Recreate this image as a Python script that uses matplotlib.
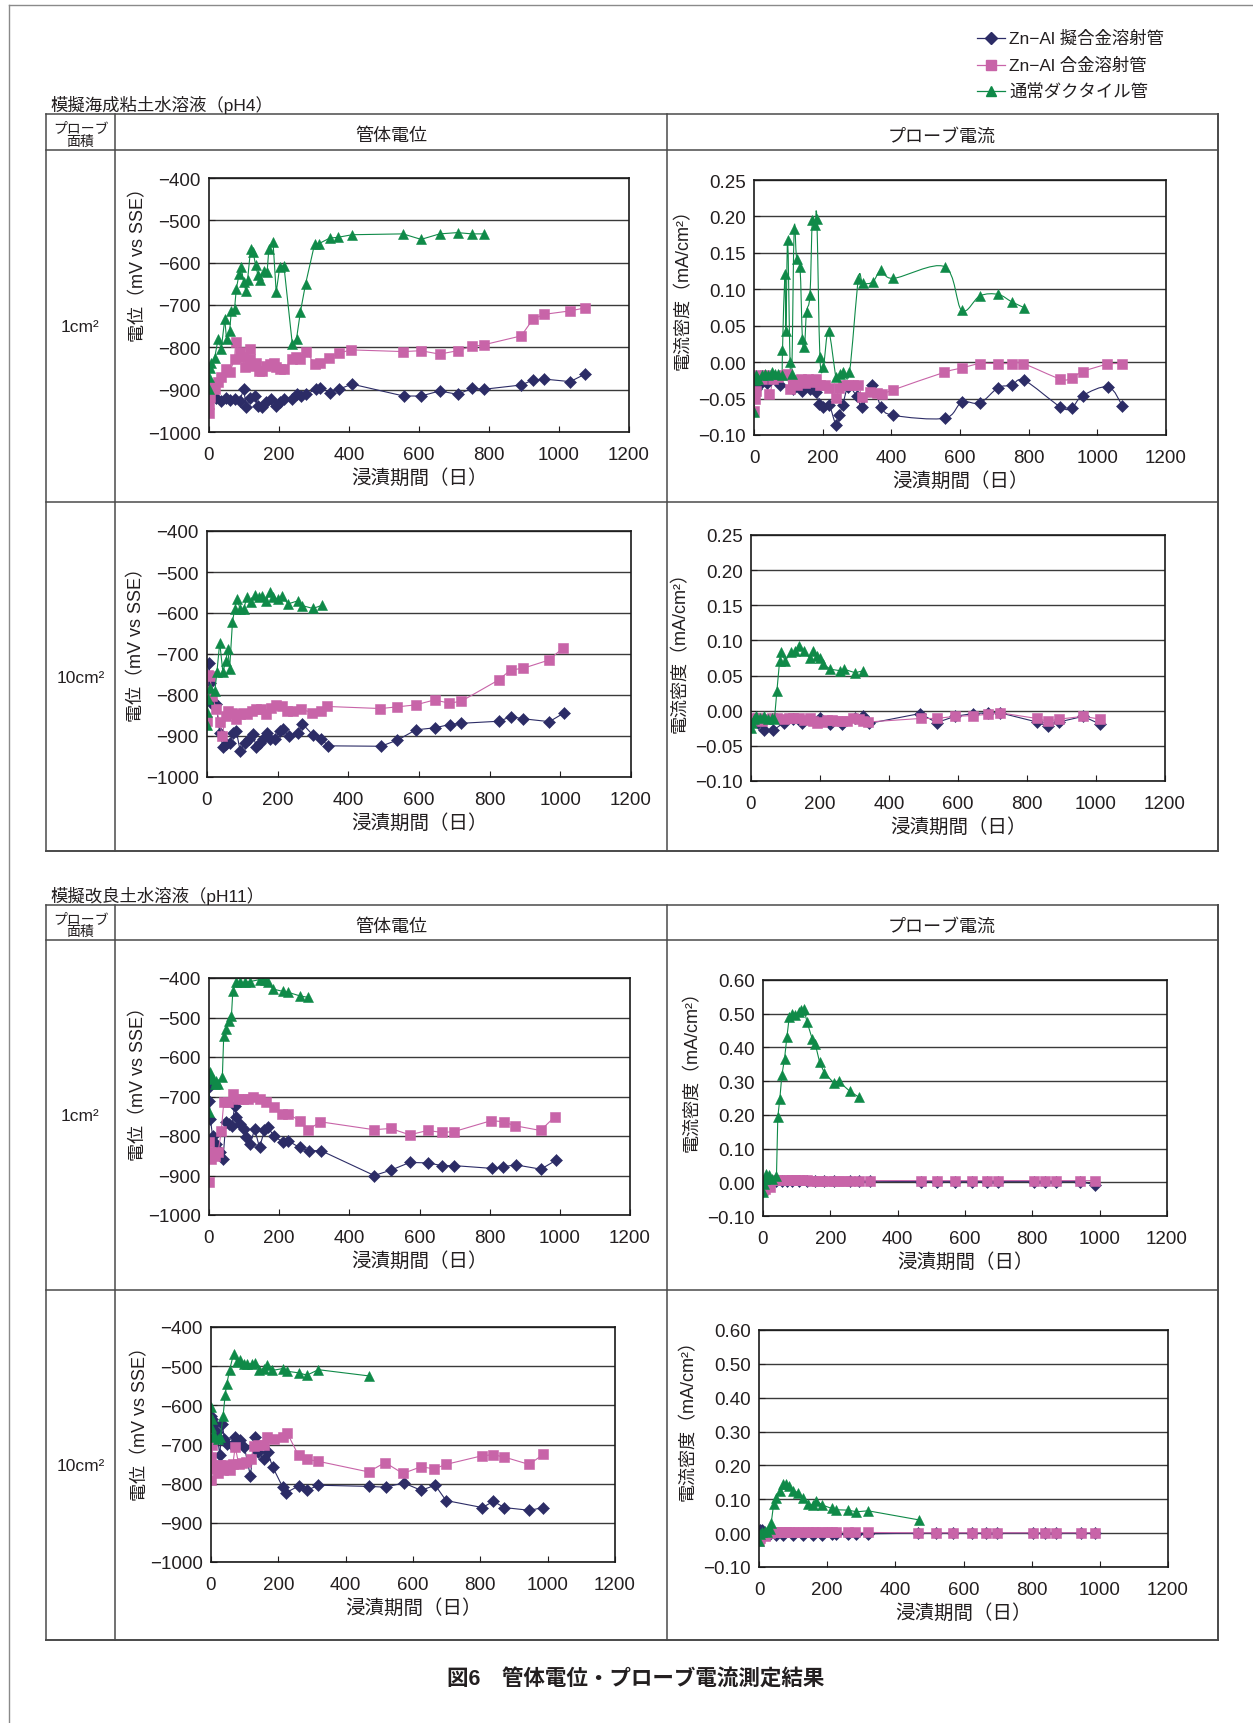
import numpy as np
import matplotlib
matplotlib.use('Agg')
import matplotlib.pyplot as plt
from matplotlib.lines import Line2D
from matplotlib.path import Path
from matplotlib.patches import PathPatch
from matplotlib.transforms import IdentityTransform
from matplotlib.ticker import FuncFormatter

plt.rcParams['font.family'] = ['Liberation Sans', 'Noto Sans CJK JP']

# ---- data (day, value) ----
# pH4, 1cm2, 管体電位 (mV)
a_navy_day = [0, 7, 21, 35, 48, 59, 73, 88, 99, 107, 116, 130, 140, 150, 164, 178, 192, 202, 213, 238,
              250, 264, 278, 305, 316, 345, 370, 409, 556, 606, 659, 710, 752, 786, 892, 926, 958, 1032, 1075]
a_navy_val = [-915, -913, -919, -926, -919, -924, -922, -926, -899, -942, -919, -915, -938, -942, -930, -922, -938, -930, -922, -922,
              -911, -916, -911, -899, -895, -907, -899, -887, -915, -915, -903, -911, -897, -899, -889, -877, -875, -881, -863]
a_pink_day = [0, 1, 2, 4, 10, 16, 26, 35, 48, 59, 73, 76, 88, 97, 102, 116, 118, 126, 135, 143,
              152, 164, 173, 185, 192, 202, 213, 238, 248, 261, 278, 302, 316, 343, 370, 405, 554, 605, 659, 710,
              751, 785, 892, 926, 958, 1031, 1074]
a_pink_val = [-954, -934, -918, -899, -891, -899, -883, -871, -852, -859, -828, -788, -812, -824, -847, -804, -828, -844, -836, -855,
              -855, -844, -840, -836, -847, -852, -852, -828, -824, -828, -810, -840, -836, -826, -814, -806, -810, -808, -816, -808,
              -798, -794, -773, -733, -722, -714, -707]
a_green_day = [0, 1, 2, 7, 16, 26, 35, 45, 50, 59, 64, 73, 78, 86, 92, 99, 105, 110, 119, 126,
               133, 140, 147, 156, 166, 171, 183, 192, 202, 214, 238, 250, 261, 276, 302, 314, 345, 369, 409, 554,
               606, 659, 710, 751, 786]
a_green_val = [-899, -871, -848, -837, -826, -780, -804, -733, -780, -761, -713, -709, -662, -627, -611, -646, -666, -642, -567, -575,
               -605, -630, -642, -619, -623, -567, -552, -670, -611, -607, -792, -780, -717, -650, -555, -555, -542, -540, -534, -532,
               -545, -532, -529, -532, -532]

# pH4, 1cm2, プローブ電流 (mA/cm2)
b_navy_day = [0, 6, 16, 37, 76, 115, 141, 163, 181, 190, 202, 219, 239, 249, 258, 275, 299, 316, 345, 370,
              406, 555, 605, 658, 711, 750, 787, 891, 925, 957, 1032, 1073]
b_navy_val = [-0.041, -0.037, -0.032, -0.028, -0.032, -0.037, -0.039, -0.037, -0.041, -0.057, -0.062, -0.059, -0.086, -0.072, -0.059,
              -0.034, -0.047, -0.061, -0.031, -0.061, -0.073, -0.077, -0.055, -0.056, -0.035, -0.032, -0.025, -0.061, -0.063, -0.046,
              -0.034, -0.060]
b_pink_day = [0, 3, 6, 12, 22, 32, 45, 56, 71, 85, 95, 105, 113, 124, 137, 149, 158, 168, 181, 192,
              207, 219, 238, 248, 260, 275, 289, 304, 316, 338, 357, 372, 406, 554, 605, 658, 710, 750, 784, 891,
              925, 957, 1029, 1073]
b_pink_val = [-0.067, -0.050, -0.039, -0.018, -0.023, -0.018, -0.044, -0.023, -0.021, -0.018, -0.016, -0.037, -0.025, -0.032, -0.023,
              -0.028, -0.023, -0.027, -0.023, -0.032, -0.032, -0.036, -0.049, -0.036, -0.032, -0.032, -0.032, -0.032, -0.048, -0.041,
              -0.043, -0.044, -0.038, -0.014, -0.008, -0.002, -0.002, -0.002, -0.002, -0.023, -0.022, -0.013, -0.003, -0.002]
b_green_day = [0, 3, 6, 13, 22, 32, 42, 51, 61, 71, 81, 83, 90, 93, 98, 105, 110, 117, 124, 134,
               141, 147, 153, 163, 170, 178, 183, 192, 202, 217, 239, 250, 260, 278, 304, 317, 346, 370, 406, 555,
               605, 658, 711, 750, 786]
b_green_val = [-0.069, -0.025, -0.018, -0.023, -0.018, -0.016, -0.018, -0.014, -0.016, -0.016, -0.018, 0.016, 0.121, 0.043, 0.167,
               0.000, -0.016, 0.183, 0.142, 0.130, 0.032, 0.021, 0.069, 0.092, 0.195, 0.188, 0.197, 0.007, -0.007, 0.043,
               -0.021, -0.016, -0.014, -0.014, 0.114, 0.108, 0.110, 0.126, 0.115, 0.131, 0.071, 0.091, 0.093, 0.083, 0.075]

# pH4, 10cm2, 管体電位
c_navy_day = [0, 6, 8, 12, 26, 36, 45, 55, 64, 74, 83, 94, 107, 119, 130, 140, 149, 159, 170, 179,
              192, 206, 215, 232, 258, 270, 300, 324, 343, 492, 539, 591, 645, 687, 720, 826, 860, 895, 969, 1010]
c_navy_val = [-753, -721, -770, -819, -823, -892, -926, -920, -916, -892, -888, -937, -916, -908, -896, -928, -916, -908, -893, -908,
              -907, -888, -884, -900, -893, -870, -898, -908, -924, -925, -910, -885, -880, -872, -869, -864, -853, -858, -865, -844]
c_pink_day = [0, 1, 3, 8, 15, 26, 36, 43, 53, 59, 72, 83, 93, 102, 113, 126, 140, 154, 168, 182,
              196, 211, 225, 244, 267, 298, 324, 341, 491, 538, 591, 644, 686, 720, 826, 859, 894, 967, 1008]
c_pink_val = [-863, -790, -751, -753, -802, -835, -867, -900, -851, -839, -843, -859, -847, -843, -847, -839, -835, -835, -847, -831,
              -825, -827, -839, -839, -835, -843, -840, -828, -833, -829, -824, -812, -820, -815, -763, -739, -735, -715, -685]
c_green_day = [0, 1, 3, 9, 22, 28, 36, 45, 53, 59, 64, 72, 78, 85, 94, 104, 113, 124, 135, 147,
               157, 168, 178, 187, 201, 213, 229, 258, 270, 300, 326]
c_green_val = [-874, -841, -810, -782, -790, -745, -672, -745, -717, -688, -737, -623, -591, -566, -591, -591, -560, -574, -556, -562,
               -558, -570, -548, -562, -566, -558, -578, -570, -582, -589, -581]

# pH4, 10cm2, プローブ電流
d_navy_day = [0, 19, 39, 64, 95, 123, 148, 201, 230, 263, 302, 324, 343, 490, 538, 591, 643, 688, 722, 828, 860, 893, 963, 1011]
d_navy_val = [-0.019, -0.017, -0.028, -0.028, -0.017, -0.012, -0.017, -0.010, -0.019, -0.019, -0.010, -0.008, -0.018, -0.004,
              -0.017, -0.008, -0.004, -0.003, -0.003, -0.016, -0.022, -0.016, -0.008, -0.019]
d_pink_day = [0, 10, 19, 32, 46, 61, 75, 95, 109, 123, 138, 153, 170, 181, 191, 205, 220, 234, 249, 263,
              278, 297, 312, 326, 340, 492, 538, 591, 643, 688, 722, 828, 860, 893, 963, 1011]
d_pink_val = [-0.015, -0.010, -0.010, -0.015, -0.012, -0.011, -0.010, -0.012, -0.010, -0.011, -0.010, -0.013, -0.011, -0.015,
              -0.017, -0.016, -0.013, -0.013, -0.015, -0.015, -0.015, -0.011, -0.012, -0.015, -0.016, -0.011, -0.011, -0.008,
              -0.007, -0.005, -0.003, -0.011, -0.015, -0.012, -0.008, -0.012]
d_green_day = [0, 3, 8, 15, 25, 37, 48, 61, 68, 75, 83, 88, 99, 116, 128, 138, 153, 170, 180, 191,
               201, 210, 230, 258, 270, 302, 326]
d_green_val = [-0.024, -0.017, -0.012, -0.007, -0.010, -0.007, -0.012, -0.010, -0.012, 0.028, 0.071, 0.083, 0.071, 0.083, 0.085,
               0.092, 0.085, 0.075, 0.085, 0.078, 0.075, 0.066, 0.059, 0.057, 0.059, 0.054, 0.057]

# pH11, 1cm2, 管体電位
e_navy_day = [0, 1, 4, 10, 21, 30, 40, 48, 57, 66, 73, 78, 87, 99, 106, 118, 130, 144, 158, 168,
              184, 211, 225, 258, 284, 319, 471, 520, 572, 623, 664, 699, 807, 838, 874, 946, 988]
e_navy_val = [-677, -711, -757, -799, -820, -841, -858, -765, -770, -774, -723, -753, -770, -782, -803, -820, -782, -829, -786, -778,
              -799, -816, -812, -829, -837, -837, -900, -886, -867, -868, -875, -875, -882, -878, -873, -884, -862]
e_pink_day = [0, 1, 2, 7, 16, 26, 35, 42, 54, 68, 83, 97, 111, 126, 144, 163, 184, 209, 225, 258,
              282, 317, 470, 518, 572, 623, 664, 698, 805, 840, 872, 945, 986]
e_pink_val = [-916, -816, -841, -858, -850, -841, -788, -715, -715, -694, -706, -706, -706, -702, -706, -715, -727, -744, -744, -761,
              -785, -764, -784, -781, -797, -786, -791, -789, -761, -764, -774, -786, -751]
e_green_day = [0, 1, 4, 10, 16, 21, 26, 38, 42, 49, 57, 64, 68, 78, 87, 102, 118, 144, 160, 168, 183, 211, 225, 258, 282]
e_green_val = [-740, -651, -639, -656, -668, -660, -668, -651, -546, -529, -508, -495, -432, -411, -411, -411, -409, -404, -404, -411,
               -428, -434, -436, -445, -449]

# pH11, 1cm2, プローブ電流
f_navy_day = [0, 3, 8, 17, 27, 40, 56, 71, 86, 106, 131, 155, 182, 210, 258, 284, 319, 469, 517, 569,
              621, 665, 698, 804, 839, 871, 943, 987]
f_navy_val = [-0.025, -0.015, -0.010, -0.005, 0.000, 0.003, 0.004, 0.004, 0.004, 0.004, 0.004, 0.004, 0.004, 0.004,
              0.003, 0.003, 0.003, 0.002, 0.002, 0.002, 0.002, 0.002, 0.002, 0.002, 0.002, 0.002, 0.002, -0.008]
f_pink_day = [0, 2, 7, 22, 32, 47, 61, 76, 86, 96, 106, 116, 131, 146, 160, 175, 190, 210, 225, 240,
              259, 284, 319, 469, 517, 569, 621, 665, 698, 804, 839, 871, 943, 987]
f_pink_val = [-0.024, -0.009, -0.019, -0.014, 0.006, 0.006, 0.006, 0.006, 0.006, 0.006, 0.006, 0.006, 0.006, 0.005, 0.004,
              0.005, 0.005, 0.005, 0.005, 0.005, 0.005, 0.005, 0.005, 0.005, 0.005, 0.005, 0.005, 0.005, 0.005, 0.005,
              0.005, 0.005, 0.005, 0.005]
f_green_day = [0, 2, 5, 10, 17, 27, 40, 44, 50, 56, 64, 71, 78, 86, 96, 106, 114, 121, 131, 146,
               155, 168, 182, 210, 225, 258, 284]
f_green_val = [-0.029, -0.004, 0.011, 0.026, 0.021, 0.011, 0.019, 0.194, 0.248, 0.317, 0.367, 0.431, 0.490, 0.500, 0.495,
               0.505, 0.510, 0.515, 0.475, 0.426, 0.411, 0.357, 0.325, 0.295, 0.299, 0.270, 0.253]

# pH11, 10cm2, 管体電位
g_navy_day = [0, 2, 8, 18, 26, 33, 40, 47, 62, 72, 85, 99, 117, 130, 141, 156, 168, 183, 213, 223,
              260, 285, 319, 470, 519, 572, 624, 666, 698, 806, 839, 871, 946, 987]
g_navy_val = [-626, -634, -647, -668, -728, -647, -685, -698, -702, -681, -689, -706, -780, -681, -719, -738, -719, -757, -809, -823,
              -806, -817, -804, -807, -809, -798, -817, -804, -843, -861, -845, -861, -868, -861]
g_pink_day = [0, 1, 3, 6, 13, 20, 28, 36, 45, 55, 65, 72, 82, 92, 105, 119, 127, 141, 156, 166,
              186, 214, 226, 260, 285, 319, 468, 517, 570, 623, 663, 697, 804, 837, 871, 945, 987]
g_pink_val = [-791, -732, -702, -762, -753, -774, -753, -766, -753, -766, -749, -706, -749, -746, -745, -738, -704, -702, -700, -681,
              -685, -681, -670, -728, -738, -743, -770, -746, -774, -757, -762, -751, -729, -726, -732, -751, -725]
g_green_day = [0, 1, 3, 6, 13, 20, 28, 36, 42, 47, 55, 67, 77, 87, 97, 107, 122, 132, 144, 156,
               166, 181, 214, 226, 260, 285, 319, 470]
g_green_val = [-604, -655, -634, -677, -681, -685, -681, -626, -574, -545, -511, -468, -489, -485, -494, -494, -494, -491, -509, -506,
               -498, -511, -506, -513, -517, -523, -509, -525]

# pH11, 10cm2, プローブ電流
h_navy_day = [0, 3, 8, 17, 31, 51, 71, 100, 129, 157, 186, 213, 227, 262, 286, 320, 467, 518, 570, 624,
              665, 699, 805, 839, 871, 945, 987]
h_navy_val = [-0.015, 0.008, 0.010, 0.000, -0.003, -0.005, -0.005, -0.005, -0.005, -0.005, -0.005, -0.004, -0.004, -0.003,
              -0.003, -0.002, 0.000, 0.000, 0.000, 0.000, 0.000, 0.000, 0.000, 0.000, 0.000, 0.000, 0.000]
h_pink_day = [0, 3, 17, 31, 41, 51, 61, 71, 80, 88, 100, 115, 129, 144, 157, 168, 186, 200, 213, 227,
              260, 281, 320, 467, 518, 570, 624, 665, 699, 805, 839, 871, 945, 987]
h_pink_val = [-0.023, -0.013, -0.008, 0.000, 0.003, 0.004, 0.004, 0.004, 0.004, 0.004, 0.004, 0.004, 0.004, 0.004, 0.004,
              0.004, 0.004, 0.004, 0.004, 0.004, 0.002, 0.002, 0.002, 0.001, 0.001, 0.001, 0.001, 0.001, 0.001, 0.001,
              0.001, 0.001, 0.001, 0.001]
h_green_day = [0, 4, 10, 17, 24, 31, 36, 43, 51, 61, 71, 80, 88, 100, 115, 129, 144, 157, 168, 186, 213, 227, 262, 286, 320, 470]
h_green_val = [-0.023, -0.003, 0.002, 0.007, 0.004, 0.012, 0.031, 0.086, 0.105, 0.125, 0.145, 0.145, 0.140, 0.125, 0.120,
               0.105, 0.086, 0.083, 0.096, 0.083, 0.073, 0.069, 0.068, 0.063, 0.066, 0.039]

series_names = ['Zn\u2212Al 擬合金溶射管', 'Zn\u2212Al 合金溶射管', '通常ダクタイル管']
POT_LABEL = '電位（mV vs SSE）'
CUR_LABEL = '電流密度（mA/cm²）'

NAVY = '#2c2c66'
PINK = '#c864a8'
GREEN = '#0f8a48'
TXT = '#231f20'
styles = [(NAVY, 'D', 6), (PINK, 's', 7.2), (GREEN, '^', 7.8)]

W, H = 1253, 1724
fig = plt.figure(figsize=(W / 100, H / 100), dpi=100)


def fx(x):
    return x / W


def fy(y):
    return 1 - y / H


def line(x0, y0, x1, y1, c='#4a4a4a', lw=1.1):
    fig.add_artist(Line2D([fx(x0), fx(x1)], [fy(y0), fy(y1)], color=c, lw=lw))


def text(x, y, s, **kw):
    kw.setdefault('color', TXT)
    fig.text(fx(x), fy(y), s, **kw)


def minus(s):
    s = s.replace('-', '\u2212')
    return '0.00' if s == '\u22120.00' else s


def smooth_line(ax, x, y, color):
    # Excel style smoothed line, built in pixel space
    pts = ax.transData.transform(np.column_stack([x, y]))
    n = len(pts)
    verts = [pts[0]]
    codes = [Path.MOVETO]
    for i in range(n - 1):
        p0 = pts[i - 1] if i > 0 else pts[i]
        p3 = pts[i + 2] if i + 2 < n else pts[i + 1]
        verts += [pts[i] + (pts[i + 1] - p0) / 6, pts[i + 1] - (p3 - pts[i]) / 6, pts[i + 1]]
        codes += [Path.CURVE4] * 3
    patch = PathPatch(Path(verts, codes), fill=False, edgecolor=color, lw=0.8,
                      transform=IdentityTransform())
    ax.add_artist(patch)


def panel(box, ylim, step, ylabel, label_y, data, fmt, smooth=False):
    l, t, r, b = box
    ax = fig.add_axes([fx(l), fy(b), (r - l) / W, (b - t) / H])
    ax.set_xlim(0, 1200)
    ax.set_ylim(*ylim)
    ax.set_xticks(range(0, 1201, 200))
    nt = int(round((ylim[1] - ylim[0]) / step)) + 1
    ax.set_yticks(np.linspace(ylim[0], ylim[1], nt))
    ax.yaxis.set_major_formatter(FuncFormatter(lambda v, p: minus(fmt % v)))
    ax.yaxis.grid(True, color='#3a3a3a', lw=1.0)
    ax.set_axisbelow(True)
    for sp in ax.spines.values():
        sp.set_color('#1a1a1a')
        sp.set_linewidth(1.2)
    ax.tick_params(direction='in', length=4, width=0.8, labelsize=13.5, colors=TXT)
    ax.tick_params(axis='x', pad=10)
    ax.tick_params(axis='y', pad=6)
    for (xd, yd), (c, m, ms) in zip(data, styles):
        if smooth:
            smooth_line(ax, xd, yd, c)
            ax.plot(xd, yd, ls='none', marker=m, ms=ms, color=c, mec=c, mew=0.4)
        else:
            ax.plot(xd, yd, color=c, lw=0.8, marker=m, ms=ms, mec=c, mew=0.4)
    ax.set_xlabel('浸漬期間（日）', fontsize=14, color=TXT)
    ax.xaxis.set_label_coords(0.5, -36 / (b - t))
    ax.set_ylabel(ylabel, fontsize=13, color=TXT)
    ax.yaxis.set_label_coords(-62 / (r - l), (b - label_y) / (b - t))
    return ax


panel((209, 179, 629, 433), (-1000, -400), 100, POT_LABEL, 260,
      [(a_navy_day, a_navy_val), (a_pink_day, a_pink_val), (a_green_day, a_green_val)], '%.0f')
panel((754, 181, 1166, 436), (-0.10, 0.25), 0.05, CUR_LABEL, 285,
      [(b_navy_day, b_navy_val), (b_pink_day, b_pink_val), (b_green_day, b_green_val)], '%.2f', smooth=True)
panel((207, 532, 631, 778), (-1000, -400), 100, POT_LABEL, 641,
      [(c_navy_day, c_navy_val), (c_pink_day, c_pink_val), (c_green_day, c_green_val)], '%.0f')
panel((751, 536, 1165, 782), (-0.10, 0.25), 0.05, CUR_LABEL, 648,
      [(d_navy_day, d_navy_val), (d_pink_day, d_pink_val), (d_green_day, d_green_val)], '%.2f')
panel((209, 979, 630, 1216), (-1000, -400), 100, POT_LABEL, 1080,
      [(e_navy_day, e_navy_val), (e_pink_day, e_pink_val), (e_green_day, e_green_val)], '%.0f')
panel((763, 981, 1167, 1217), (-0.10, 0.60), 0.10, CUR_LABEL, 1067,
      [(f_navy_day, f_navy_val), (f_pink_day, f_pink_val), (f_green_day, f_green_val)], '%.2f')
panel((211, 1328, 615, 1563), (-1000, -400), 100, POT_LABEL, 1420,
      [(g_navy_day, g_navy_val), (g_pink_day, g_pink_val), (g_green_day, g_green_val)], '%.0f')
panel((759, 1331, 1168, 1568), (-0.10, 0.60), 0.10, CUR_LABEL, 1416,
      [(h_navy_day, h_navy_val), (h_pink_day, h_pink_val), (h_green_day, h_green_val)], '%.2f')

# page frame
line(9, 6, W, 6, c='#8a8a8a', lw=1.0)
line(9, 6, 9, H, c='#8a8a8a', lw=1.0)

# tables
for top, head, mid, bot, title in [(115, 151, 503, 852, '模擬海成粘土水溶液（pH4）'),
                                   (906, 941, 1291, 1641, '模擬改良土水溶液（pH11）')]:
    line(46, top, 1218, top)
    line(46, bot, 1218, bot, lw=1.4)
    line(46, top, 46, bot)
    line(1218, top, 1218, bot, lw=1.4)
    line(46, head, 1218, head)
    line(46, mid, 1218, mid)
    line(115, top, 115, bot)
    line(667, top, 667, bot)
    text(50, top - 10, title, fontsize=12.5, ha='left', va='center')
    text(80.5, (top + head) / 2 + 2, 'プローブ\n面積', fontsize=10, ha='center', va='center', linespacing=0.95)
    text(391, (top + head) / 2 + 4, '管体電位', fontsize=13, ha='center', va='center')
    text(942, (top + head) / 2 + 4, 'プローブ電流', fontsize=13, ha='center', va='center')
    text(80.5, (head + mid) / 2 + 1, '1cm²', fontsize=12.5, ha='center', va='center')
    text(80.5, (mid + bot) / 2 + 1, '10cm²', fontsize=12.5, ha='center', va='center')

# legend
for i, (name, (c, m, ms)) in enumerate(zip(series_names, styles)):
    y = 39 + i * 26.5
    fig.add_artist(Line2D([fx(977), fx(991), fx(1005)], [fy(y)] * 3, color=c, lw=0.9,
                          marker=m, ms=ms, mec=c, markevery=[1]))
    text(1009, y, name, fontsize=12.5, ha='left', va='center')

text(636, 1680, '図6　管体電位・プローブ電流測定結果', fontsize=15.5, ha='center', va='center',
     fontweight='bold')

fig.savefig('out.png', dpi=100, facecolor='white')
